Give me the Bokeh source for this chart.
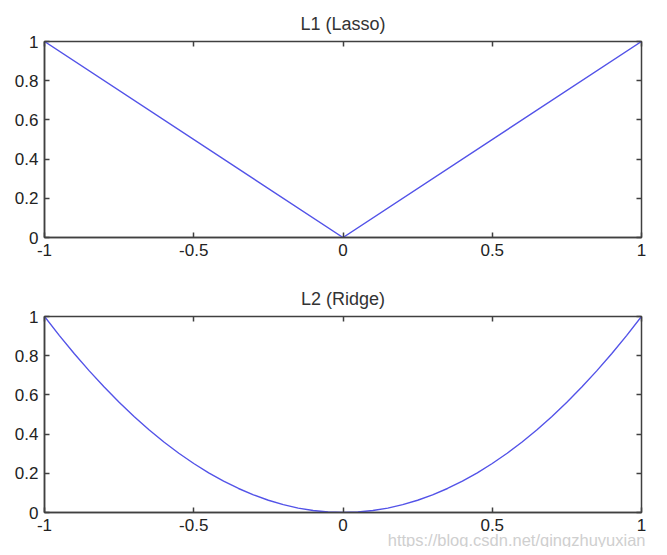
from bokeh.plotting import figure
from bokeh.layouts import column
from bokeh.models import LinearAxis, FixedTicker, Title
from bokeh.embed import file_html
from bokeh.resources import INLINE

# L1 (Lasso) penalty
x_l1 = [-1, 0, 1]
y_l1 = [1, 0, 1]

# L2 (Ridge) penalty
x_l2 = [-1.0, -0.95, -0.9, -0.85, -0.8, -0.75, -0.7, -0.65, -0.6, -0.55, -0.5,
        -0.45, -0.4, -0.35, -0.3, -0.25, -0.2, -0.15, -0.1, -0.05, 0.0,
        0.05, 0.1, 0.15, 0.2, 0.25, 0.3, 0.35, 0.4, 0.45, 0.5,
        0.55, 0.6, 0.65, 0.7, 0.75, 0.8, 0.85, 0.9, 0.95, 1.0]
y_l2 = [1.0, 0.9025, 0.81, 0.7225, 0.64, 0.5625, 0.49, 0.4225, 0.36, 0.3025, 0.25,
        0.2025, 0.16, 0.1225, 0.09, 0.0625, 0.04, 0.0225, 0.01, 0.0025, 0.0,
        0.0025, 0.01, 0.0225, 0.04, 0.0625, 0.09, 0.1225, 0.16, 0.2025, 0.25,
        0.3025, 0.36, 0.4225, 0.49, 0.5625, 0.64, 0.7225, 0.81, 0.9025, 1.0]

x_ticks = [-1, -0.5, 0, 0.5, 1]
y_ticks = [0, 0.2, 0.4, 0.6, 0.8, 1]
x_labels = {-1: "-1", -0.5: "-0.5", 0: "0", 0.5: "0.5", 1: "1"}
y_labels = {0: "0", 0.2: "0.2", 0.4: "0.4", 0.6: "0.6", 0.8: "0.8", 1: "1"}

AX = "#404040"
FONT = "Liberation Sans"


def make_plot(title, xs, ys, h, top):
    p = figure(width=651, height=h, x_range=(-1, 1), y_range=(0, 1),
               output_backend="svg", toolbar_location=None,
               min_border_left=44, min_border_right=10,
               min_border_top=top, min_border_bottom=h - top - 196)
    p.title.text = title
    p.title.align = "center"
    p.title.text_font = FONT
    p.title.text_font_size = "18px"
    p.title.text_font_style = "normal"
    p.title.text_color = "#333333"
    p.title.standoff = 16
    p.xgrid.visible = False
    p.ygrid.visible = False
    p.outline_line_color = AX
    p.outline_line_width = 1.5
    p.border_fill_color = "white"

    p.line(xs, ys, line_color="#5353e8", line_width=1.4)

    for ax, ticks, labels in ((p.xaxis[0], x_ticks, x_labels), (p.yaxis[0], y_ticks, y_labels)):
        ax.ticker = FixedTicker(ticks=ticks)
        ax.major_label_overrides = labels
        ax.major_tick_in = 5
        ax.major_tick_out = 0
        ax.minor_tick_line_color = None
        ax.axis_line_color = AX
        ax.axis_line_width = 1.5
        ax.major_tick_line_color = AX
        ax.major_tick_line_width = 1.5
        ax.major_label_text_font = FONT
        ax.major_label_text_font_size = "17px"
        ax.major_label_text_color = "#222222"
        ax.major_label_standoff = 6

    # mirrored ticks on top and right, no labels
    for ticks, side in ((x_ticks, "above"), (y_ticks, "right")):
        ax = LinearAxis(ticker=FixedTicker(ticks=ticks), major_tick_in=5, major_tick_out=0,
                        minor_tick_line_color=None, axis_line_color=None,
                        major_tick_line_color=AX, major_tick_line_width=1.5,
                        major_label_overrides={t: "" for t in ticks},
                        major_label_standoff=0)
        p.add_layout(ax, side)
    return p


p1 = make_plot("L1 (Lasso)", x_l1, y_l1, 272, 41)
p2 = make_plot("L2 (Ridge)", x_l2, y_l2, 275, 44)

p2.add_layout(Title(text="https://blog.csdn.net/qingzhuyuxian", align="right",
                    text_font=FONT, text_font_size="16.5px", text_font_style="normal",
                    text_color="#cfcfcf", standoff=-10, offset=-4), "below")

p = column(p1, p2, spacing=0)
open("out.html", "w").write(file_html(p, INLINE))
